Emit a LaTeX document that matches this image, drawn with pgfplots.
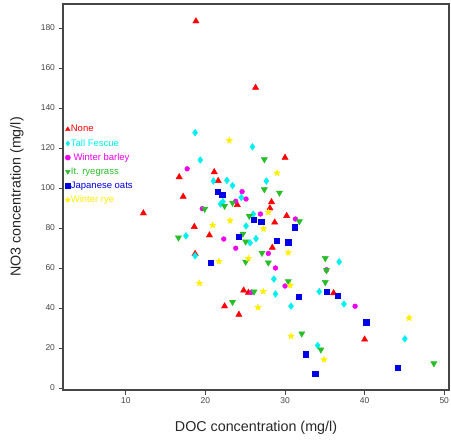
\documentclass[border=0pt]{standalone}
\usepackage{pgfplots}
\pgfplotsset{compat=1.18}
\usepackage{fontspec}
\setmainfont{Liberation Sans}

\definecolor{cNone}{RGB}{255,0,0}
\definecolor{cFes}{RGB}{0,240,240}
\definecolor{cBar}{RGB}{240,0,240}
\definecolor{cRye}{RGB}{40,190,40}
\definecolor{cOat}{RGB}{0,0,230}
\definecolor{cWry}{RGB}{255,240,0}
\definecolor{axgray}{RGB}{70,70,70}

% filled five-point star
\pgfdeclareplotmark{fstar}{%
  \pgfpathmoveto{\pgfpointpolar{90}{\pgfplotmarksize}}%
  \pgfpathlineto{\pgfpointpolar{126}{0.45\pgfplotmarksize}}%
  \pgfpathlineto{\pgfpointpolar{162}{\pgfplotmarksize}}%
  \pgfpathlineto{\pgfpointpolar{198}{0.45\pgfplotmarksize}}%
  \pgfpathlineto{\pgfpointpolar{234}{\pgfplotmarksize}}%
  \pgfpathlineto{\pgfpointpolar{270}{0.45\pgfplotmarksize}}%
  \pgfpathlineto{\pgfpointpolar{306}{\pgfplotmarksize}}%
  \pgfpathlineto{\pgfpointpolar{342}{0.45\pgfplotmarksize}}%
  \pgfpathlineto{\pgfpointpolar{18}{\pgfplotmarksize}}%
  \pgfpathlineto{\pgfpointpolar{54}{0.45\pgfplotmarksize}}%
  \pgfpathclose
  \pgfusepathqfillstroke}

\begin{document}
\begin{tikzpicture}
\begin{axis}[
  scale only axis,
  width=386pt, height=386pt,
  xmin=2.1, xmax=50.6,
  ymin=-1, ymax=192,
  xtick={10,20,...,50},
  ytick={0,20,...,180},
  tick align=outside,
  xtick pos=bottom, ytick pos=left,
  major tick length=4.5pt,
  axis line style={draw=axgray, line width=1.1pt},
  every tick/.style={axgray, line width=0.9pt},
  tick label style={font=\fontsize{8.5}{10}\selectfont, text=axgray},
  /pgf/number format/assume math mode=true,
  xlabel={DOC concentration (mg/l)},
  ylabel={NO3 concentration (mg/l)},
  label style={font=\fontsize{14.3}{16}\selectfont, text=black!85},
  xlabel style={at={(axis description cs:0.5,-0.0984)}, anchor=center},
  ylabel style={at={(axis description cs:-0.1192,0.5)}, anchor=center},
  only marks,
  mark size=2.6pt,
  legend style={draw=none, fill=none, at={(axis cs:2.35,131.9)}, anchor=north west,
    font=\fontsize{9.5}{10}\selectfont, row sep=4.1pt, inner sep=0pt,
    nodes={inner sep=0.5pt, text height=7pt, text depth=2pt},
    /tikz/every even column/.append style={column sep=1pt}},
  legend cell align=left,
  legend image code/.code={\draw[mark repeat=2,mark phase=2,mark size=2.6pt] plot coordinates {(0cm,0cm)(0.1cm,0cm)(0.2cm,0cm)};},
]
% None
\addplot[mark=triangle*, color=cNone, mark size=3.6pt] coordinates {
(18.8,183.4) (26.3,150.2) (30.0,115.2) (21.1,108.0) (16.7,105.5) (21.6,103.6)
(17.2,95.7) (12.2,87.4) (24.0,91.6) (28.3,93.0) (28.1,89.9) (30.2,86.1)
(28.7,82.8) (18.6,80.6) (20.5,76.4) (28.4,70.2) (18.7,67.1) (24.8,48.8)
(25.4,47.7) (22.4,40.9) (24.2,36.7) (36.1,47.5) (40.0,24.3)
};
\addlegendentry{\textcolor{cNone}{None}}
% Tall Fescue
\addplot[mark=diamond*, color=cFes, mark size=3.4pt] coordinates {
(18.7,127.7) (25.9,120.6) (19.35,114.0) (21.0,103.5) (22.7,103.8) (23.4,101.2)
(27.65,103.5) (24.5,95.3) (22.2,93.2) (21.9,92.0) (26.0,86.9) (25.1,81.0)
(17.55,76.1) (26.35,74.7) (25.6,72.6) (18.7,66.1) (36.8,63.1) (28.6,54.5)
(28.8,47.0) (34.3,48.2) (30.75,40.9) (37.4,42.0) (34.1,21.3) (45.05,24.6)
};
\addlegendentry{\textcolor{cFes}{Tall Fescue}}
% Winter barley
\addplot[mark=*, color=cBar, mark size=2.4pt] coordinates {
(17.7,109.6) (24.6,98.2) (25.1,94.5) (23.8,93.4) (19.6,89.7) (26.9,87.0)
(31.3,84.5) (22.3,74.5) (23.8,69.9) (27.9,67.3) (28.8,60.0) (35.2,59.1)
(30.0,51.0) (25.8,47.9) (38.8,40.9)
};
\addlegendentry{\textcolor{cBar}{\ Winter barley}}
% It. ryegrass
\addplot[mark=triangle*, mark options={rotate=180}, color=cRye, mark size=3.6pt] coordinates {
(27.4,114.3) (27.4,99.3) (29.3,97.6) (19.9,89.5) (23.4,92.6) (22.4,91.0)
(25.5,86.0) (31.8,83.3) (24.7,77.1) (25.05,73.2) (16.6,75.2) (27.1,67.5)
(25.05,63.1) (27.9,62.7) (35.05,64.9) (35.2,58.8) (35.05,52.9) (30.4,53.3)
(26.1,48.2) (23.4,43.0) (32.1,27.2) (34.5,19.2) (48.7,12.3)
};
\addlegendentry{\textcolor{cRye}{It. ryegrass}}
% Japanese oats
\addplot[mark=square*, color=cOat, mark size=2.6pt] coordinates {
(21.5,98.0) (22.1,96.8) (26.1,84.1) (27.0,83.1) (31.2,80.4) (24.2,75.6)
(29.0,73.8) (30.4,72.9) (20.7,62.8) (31.7,45.7) (35.2,48.2) (36.6,46.0)
(40.2,32.9) (32.6,16.9) (33.8,7.3) (44.2,10.3)
};
\addlegendentry{\textcolor{cOat}{Japanese oats}}
% Winter rye
\addplot[mark=fstar, color=cWry, mark size=3.3pt] coordinates {
(23.0,123.8) (29.0,107.5) (27.9,87.9) (23.1,83.7) (20.9,81.4) (27.3,79.6)
(25.4,64.8) (21.7,63.3) (30.4,67.7) (19.25,52.4) (30.65,51.3) (27.25,48.3)
(26.6,40.3) (30.75,25.9) (34.9,14.2) (45.6,35.0)
};
\addlegendentry{\textcolor{cWry}{Winter rye}}
\end{axis}
\pgfresetboundingbox
\path ([shift={(-63pt,-50pt)}]current axis.south west) rectangle ([shift={(2pt,4pt)}]current axis.north east);
\end{tikzpicture}
\end{document}
